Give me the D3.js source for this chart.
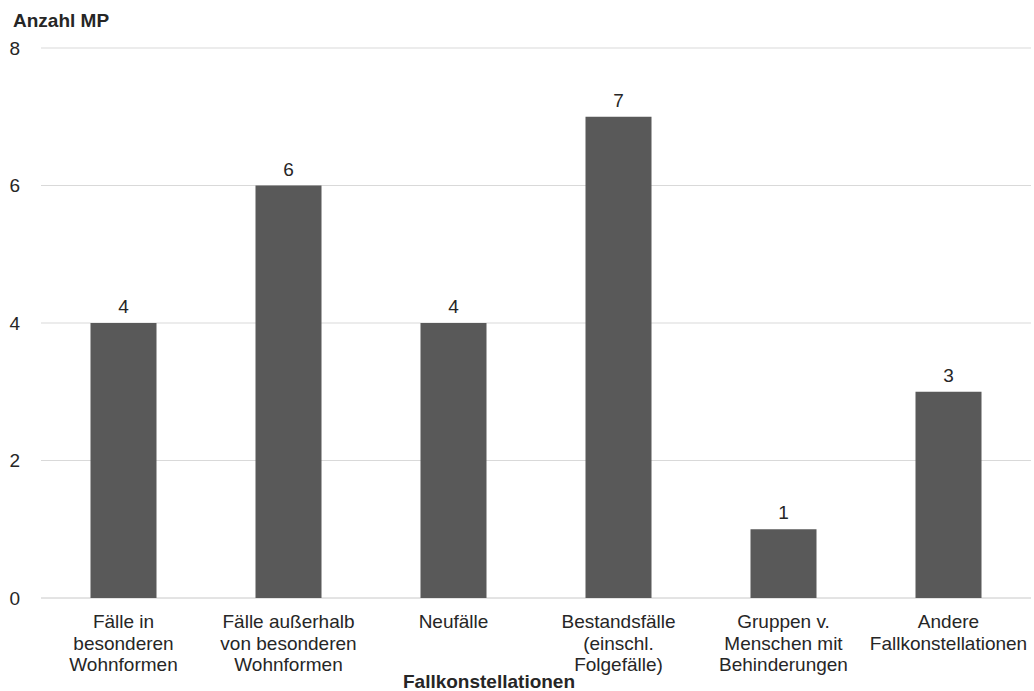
<!DOCTYPE html>
<html>
<head>
<meta charset="utf-8">
<script src="https://cdn.jsdelivr.net/npm/d3@7"></script>
<style>
  html, body { margin: 0; padding: 0; background: #fff; }
  text { font-family: "Liberation Sans", Arial, sans-serif; fill: #262626; }
</style>
</head>
<body>
<svg id="chart" width="1034" height="691"></svg>
<script>
// Fallkonstellationen and their Anzahl MP
const categories = [
  ["Fälle in", "besonderen", "Wohnformen"],
  ["Fälle außerhalb", "von besonderen", "Wohnformen"],
  ["Neufälle"],
  ["Bestandsfälle", "(einschl.", "Folgefälle)"],
  ["Gruppen v.", "Menschen mit", "Behinderungen"],
  ["Andere", "Fallkonstellationen"]
];
const values = [4, 6, 4, 7, 1, 3];
const yTicks = [0, 2, 4, 6, 8];
const yTitle = "Anzahl MP";
const xTitle = "Fallkonstellationen";

const svg = d3.select("#chart");
const margin = { left: 41, right: 3, top: 48, bottom: 93 };
const W = 1034, H = 691;
const fs = 19;

const x = d3.scaleBand()
  .domain(d3.range(categories.length))
  .range([margin.left, W - margin.right])
  .paddingInner(0.6)
  .paddingOuter(0.3);

const y = d3.scaleLinear().domain([0, 8]).range([H - margin.bottom, margin.top]);

// gridlines
svg.append("g")
  .selectAll("line")
  .data(yTicks)
  .join("line")
  .attr("x1", margin.left)
  .attr("x2", W - margin.right)
  .attr("y1", d => y(d))
  .attr("y2", d => y(d))
  .attr("stroke", d => d === 0 ? "#c8c8c8" : "#d9d9d9")
  .attr("stroke-width", 1);

// y tick labels
svg.append("g")
  .selectAll("text")
  .data(yTicks)
  .join("text")
  .attr("x", 20)
  .attr("y", d => y(d))
  .attr("dy", "0.36em")
  .attr("text-anchor", "end")
  .attr("font-size", fs)
  .text(d => d);

// bars
svg.append("g")
  .selectAll("rect")
  .data(values)
  .join("rect")
  .attr("x", (d, i) => x(i))
  .attr("width", x.bandwidth())
  .attr("y", d => y(d))
  .attr("height", d => y(0) - y(d))
  .attr("fill", "#595959");

// value labels
svg.append("g")
  .selectAll("text")
  .data(values)
  .join("text")
  .attr("x", (d, i) => x(i) + x.bandwidth() / 2)
  .attr("y", d => y(d) - 10)
  .attr("text-anchor", "middle")
  .attr("font-size", fs)
  .text(d => d);

// category labels
const catG = svg.append("g")
  .selectAll("text")
  .data(categories)
  .join("text")
  .attr("x", (d, i) => x(i) + x.bandwidth() / 2)
  .attr("y", 628)
  .attr("text-anchor", "middle")
  .attr("font-size", fs);
catG.selectAll("tspan")
  .data(d => d)
  .join("tspan")
  .attr("x", function () { return d3.select(this.parentNode).attr("x"); })
  .attr("dy", (d, i) => i === 0 ? 0 : 21.5)
  .text(d => d);

// axis titles
svg.append("text")
  .attr("x", 13)
  .attr("y", 27)
  .attr("font-size", fs)
  .attr("font-weight", "bold")
  .text(yTitle);

svg.append("text")
  .attr("x", 489)
  .attr("y", 688)
  .attr("text-anchor", "middle")
  .attr("font-size", fs)
  .attr("font-weight", "bold")
  .text(xTitle);
</script>
</body>
</html>
